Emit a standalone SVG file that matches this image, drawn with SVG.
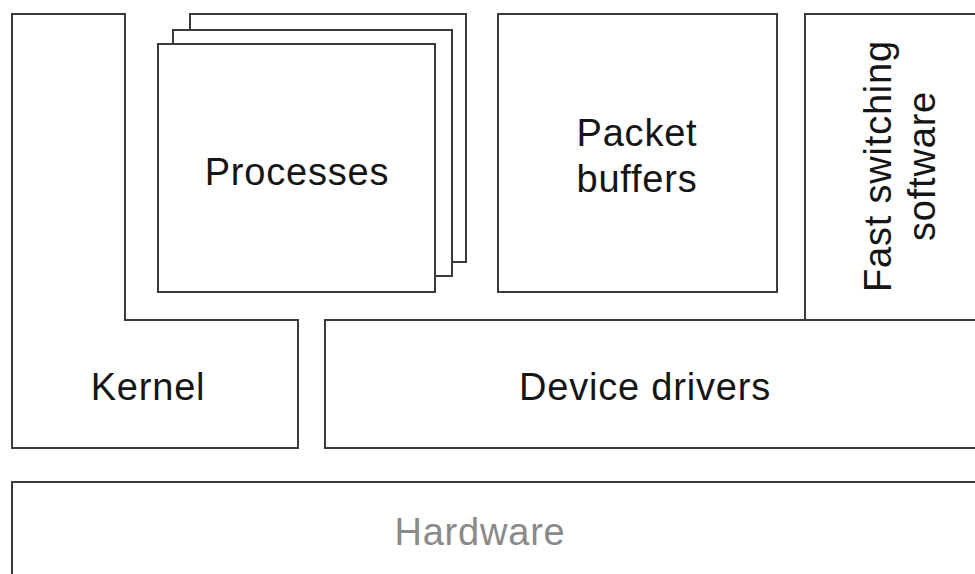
<svg xmlns="http://www.w3.org/2000/svg" width="975" height="574" viewBox="0 0 975 574">
  <style>
    .box { fill: #ffffff; stroke: #3a3a3a; stroke-width: 2; }
    .edge { fill: none; stroke: #3a3a3a; stroke-width: 2; }
    .dash { fill: none; stroke: #3a3a3a; stroke-width: 2; stroke-dasharray: 10 8; }
    .label { font-family: "Liberation Sans", Arial, sans-serif; font-size: 38px; letter-spacing: 0.8px; fill: #151515; text-anchor: middle; }
    .muted { fill: #8a8a8a; }
  </style>
  <rect width="975" height="574" fill="#ffffff"/>

  <g id="kernel">
    <path class="box" d="M12 14 H125 V320 H298 V448 H12 Z"/>
    <text class="label" x="148" y="400">Kernel</text>
  </g>

  <g id="processes">
    <rect class="box" x="190" y="14" width="276" height="248"/>
    <rect class="box" x="173" y="30" width="279" height="246"/>
    <rect class="box" x="158" y="44" width="277" height="248"/>
    <text class="label" x="297" y="185">Processes</text>
  </g>

  <g id="packet-buffers">
    <rect class="box" x="498" y="14" width="279" height="278"/>
    <text class="label" x="637" y="146">Packet</text>
    <text class="label" x="637" y="192">buffers</text>
  </g>

  <g id="fast-switching">
    <path class="edge" d="M980 14 H805 V320"/>
    <text class="label" transform="translate(891 166) rotate(-90)">Fast switching</text>
    <text class="label" transform="translate(935 166) rotate(-90)">software</text>
  </g>

  <g id="device-drivers">
    <path class="edge" d="M980 320 H325 V448 H980"/>
    <text class="label" x="645" y="400">Device drivers</text>
  </g>

  <g id="hardware">
    <path class="edge" d="M980 482 H12 V580"/>
    <text class="label muted" x="480" y="545">Hardware</text>
  </g>

  <g id="connectors">
    <path class="dash" d="M809 320 H975"/>
  </g>
</svg>
